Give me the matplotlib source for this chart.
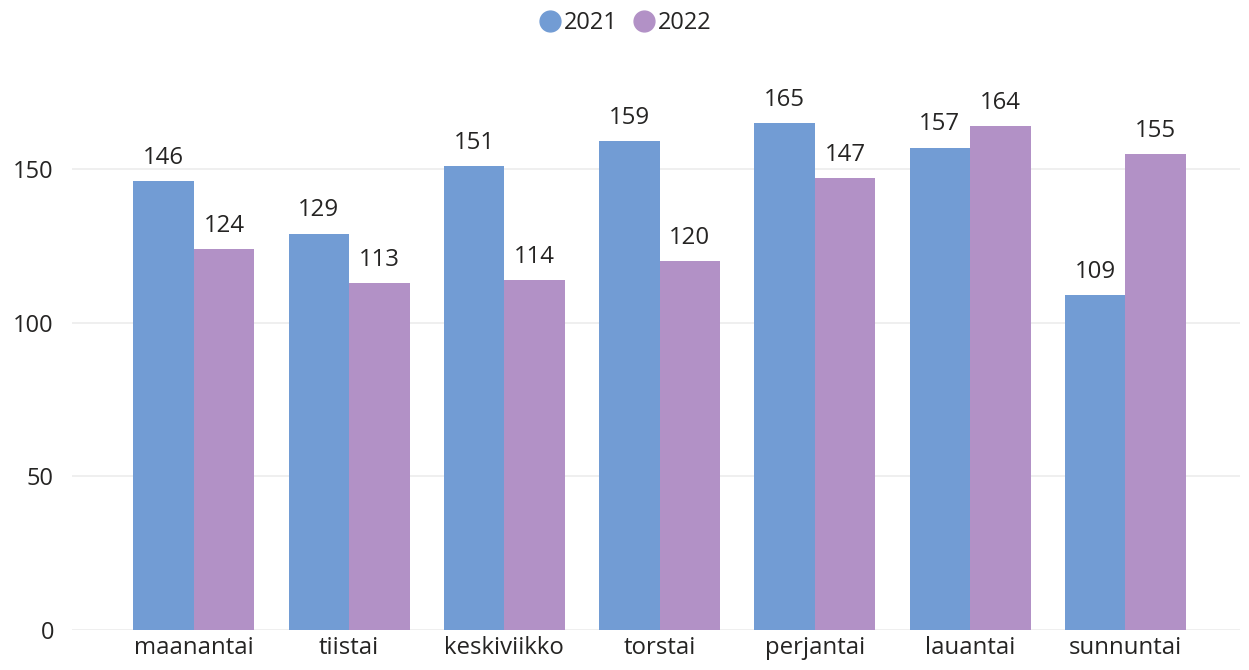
import numpy as np
import matplotlib; matplotlib.use("Agg")
import matplotlib.pyplot as plt
from matplotlib.lines import Line2D

days = ["maanantai", "tiistai", "keskiviikko", "torstai", "perjantai", "lauantai", "sunnuntai"]
v2021 = [146, 129, 151, 159, 165, 157, 109]
v2022 = [124, 113, 114, 120, 147, 164, 155]

BLUE, PURPLE, INK = "#729CD4", "#B291C6", "#252423"
plt.rcParams.update({"font.family": ["Open Sans", "DejaVu Sans"], "font.size": 17, "text.color": INK})

fig = plt.figure(figsize=(12.49, 6.70), dpi=100)
ax = fig.add_axes([0.0576, 0.0597, 0.935, 0.8485])

x = np.arange(len(days))
w = 0.39
b1 = ax.bar(x - w / 2, v2021, w, color=BLUE, zorder=2)
b2 = ax.bar(x + w / 2, v2022, w, color=PURPLE, zorder=2)
for bars in (b1, b2):
    for r in bars:
        ax.annotate(f"{r.get_height():.0f}", (r.get_x() + r.get_width() / 2, r.get_height()),
                    xytext=(0, 8), textcoords="offset points", ha="center", va="bottom",
                    fontsize=17.3, color=INK)

ax.set_xlim(-0.786, 6.737)
ax.set_ylim(0, 185)
ax.set_yticks([0, 50, 100, 150])
ax.set_xticks(x, days)
ax.grid(axis="y", color="#ececec", lw=1.2, zorder=0)
ax.set_axisbelow(True)
ax.tick_params(axis="y", length=0, pad=13, labelsize=17, colors=INK)
ax.tick_params(axis="x", length=0, pad=4, labelsize=17.3, colors=INK)
for s in ("top", "right", "left", "bottom"):
    ax.spines[s].set_visible(False)

handles = [Line2D([], [], marker="o", ls="", ms=15, color=BLUE),
           Line2D([], [], marker="o", ls="", ms=15, color=PURPLE)]
fig.legend(handles, ["2021", "2022"], loc="upper center", bbox_to_anchor=(0.5, 1.015), ncol=2,
           frameon=False, fontsize=17, handletextpad=0.1, columnspacing=0.6, handlelength=1.0)

fig.savefig("out.png", dpi=100, facecolor="white")
